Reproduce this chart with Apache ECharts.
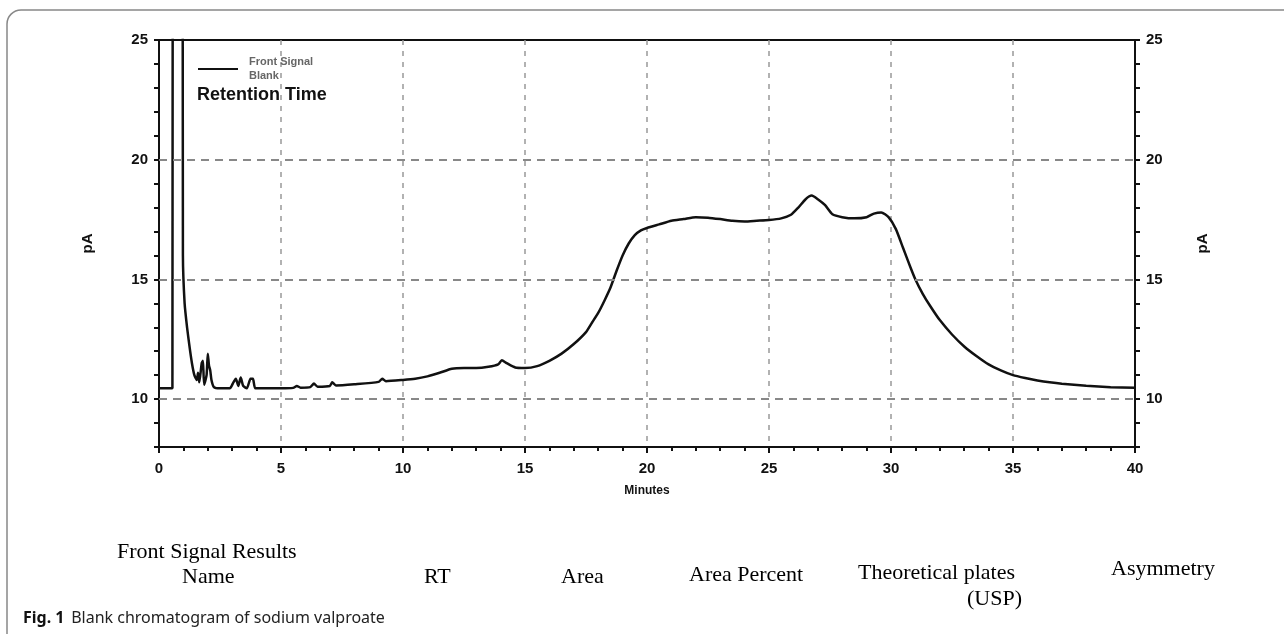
<!DOCTYPE html>
<html style="height: 100%">
<head>
    <meta charset="UTF-8">
    <title>Blank chromatogram of sodium valproate</title>
    <script src="https://cdn.jsdelivr.net/npm/echarts@6/dist/echarts.min.js"></script>
    <style>
        #main {
            width: 1284px;
            height: 634px;
        }
    </style>
</head>
<body style="height: 100%; margin: 0; background: #fff">
    <div id="main"></div>
    <script type="text/javascript">
        // retention time (min) and detector signal (pA)
        var minutes = [0, 0.55, 0.57, 0.95, 0.98, 1.05, 1.15, 1.25, 1.35, 1.45, 1.55, 1.6, 1.65, 1.75, 1.8, 1.85, 1.95, 2.0, 2.05, 2.1, 2.15, 2.25, 2.5, 2.9,
            3.05, 3.15, 3.25, 3.35, 3.45, 3.6, 3.75, 3.85, 3.95, 4.5, 5.0, 5.5, 5.65, 5.8, 6.2, 6.35, 6.5, 7.0, 7.1, 7.25, 8, 9, 9.15, 9.3,
            10, 10.5, 11, 11.5, 12, 12.5, 13, 13.5, 13.9, 14.05, 14.25, 14.6, 15, 15.5, 16, 16.5, 17, 17.5, 17.75, 18, 18.25, 18.5, 18.75,
            19, 19.25, 19.5, 19.75, 20, 20.5, 21, 21.5, 22, 22.5, 23, 23.5, 24, 24.5, 25, 25.5, 25.9, 26.2, 26.5, 26.75, 27.0, 27.3, 27.6,
            28, 28.5, 29, 29.3, 29.6, 29.9, 30.2, 30.5, 30.8, 31, 31.3, 31.6, 32, 32.5, 33, 33.5, 34, 34.5, 35, 35.5, 36, 36.5, 37, 38, 39, 40];
        var signal = [10.45, 10.45, 40, 40, 16, 14, 13.0, 12.2, 11.5, 11.0, 10.8, 11.1, 10.7, 11.5, 11.6, 10.6, 11.0, 11.9, 11.4, 11.2, 10.8, 10.5, 10.45, 10.45,
            10.7, 10.85, 10.55, 10.9, 10.55, 10.45, 10.85, 10.85, 10.45, 10.45, 10.45, 10.47, 10.55, 10.48, 10.5, 10.65, 10.52, 10.55, 10.7, 10.57, 10.62, 10.72, 10.85, 10.75,
            10.8, 10.85, 10.95, 11.1, 11.27, 11.3, 11.3, 11.35, 11.45, 11.62, 11.5, 11.32, 11.3, 11.38, 11.6, 11.9, 12.3, 12.8, 13.2, 13.6, 14.1, 14.65, 15.35,
            16.0, 16.5, 16.85, 17.05, 17.15, 17.3, 17.45, 17.52, 17.6, 17.58, 17.52, 17.45, 17.42, 17.45, 17.48, 17.55, 17.7, 18.0, 18.35, 18.5, 18.35, 18.1, 17.72,
            17.6, 17.55, 17.6, 17.75, 17.8, 17.6, 17.1, 16.3, 15.5, 15.0, 14.4, 13.9, 13.3, 12.7, 12.2, 11.8, 11.45, 11.2, 11.0, 10.88, 10.78, 10.7, 10.64, 10.56, 10.5, 10.47];

        var yLabels = [10, 15, 20, 25];
        var yGrid = [10, 15, 20];
        var tableHeads = ['Name', 'RT', 'Area', 'Area Percent', 'Theoretical plates', '(USP)', 'Asymmetry'];

        var chartDom = document.getElementById('main');
        var myChart = echarts.init(chartDom, null, { renderer: 'canvas' });

        var pts = minutes.map(function (m, i) { return [m, signal[i]]; });

        function yAxisOpt(pos) {
            return {
                type: 'value',
                position: pos,
                min: 8,
                max: 25,
                interval: 1,
                name: 'pA',
                nameLocation: 'middle',
                nameRotate: 90,
                nameGap: pos === 'left' ? 64 : 60,
                nameTextStyle: { fontFamily: 'Liberation Sans', fontWeight: 'bold', fontSize: 15, color: '#111' },
                axisLine: { show: true, lineStyle: { color: '#111', width: 2 } },
                axisTick: { show: true, length: 5, lineStyle: { color: '#111', width: 2 } },
                splitLine: { show: false },
                axisLabel: {
                    margin: 11,
                    fontFamily: 'Liberation Sans', fontWeight: 'bold', fontSize: 15, color: '#111',
                    formatter: function (v) { return yLabels.indexOf(v) >= 0 ? String(v) : ''; }
                }
            };
        }

        var serif = { fontFamily: 'Liberation Serif', fontSize: 22, fill: '#000' };
        function head(txt, x, y) {
            return { type: 'text', left: x, top: y - 12, style: Object.assign({ text: txt }, serif) };
        }

        var option = {
            animation: false,
            grid: { left: 159, right: 149, top: 40, bottom: 187, show: true, borderColor: '#111', borderWidth: 2 },
            legend: {
                left: 193, top: 50,
                icon: 'rect', itemWidth: 40, itemHeight: 2,
                textStyle: { fontFamily: 'Liberation Sans', fontWeight: 'bold', fontSize: 11, color: '#666', lineHeight: 14, padding: [0, 0, 0, 6] },
                data: ['Front Signal\nBlank']
            },
            xAxis: {
                type: 'value',
                min: 0, max: 40, interval: 5,
                name: 'Minutes',
                nameLocation: 'middle',
                nameGap: 38,
                nameTextStyle: { fontFamily: 'Liberation Sans', fontWeight: 'bold', fontSize: 12, color: '#111' },
                axisLine: { show: true, lineStyle: { color: '#111', width: 2 } },
                axisTick: { show: true, length: 6, lineStyle: { color: '#111', width: 2 } },
                minorTick: { show: true, splitNumber: 5, length: 4, lineStyle: { color: '#111', width: 2 } },
                splitLine: { show: true, lineStyle: { type: [5, 6], color: '#999', width: 1.5 } },
                axisLabel: { margin: 14, fontFamily: 'Liberation Sans', fontWeight: 'bold', fontSize: 15, color: '#111' }
            },
            yAxis: [yAxisOpt('left'), yAxisOpt('right')],
            series: [{
                name: 'Front Signal\nBlank',
                type: 'line',
                data: pts,
                showSymbol: false,
                clip: true,
                smooth: 0.2,
                lineStyle: { color: '#111', width: 2.5 },
                itemStyle: { color: '#111' },
                markLine: {
                    silent: true,
                    symbol: 'none',
                    label: { show: false },
                    lineStyle: { type: [8, 6], color: '#888', width: 1.8 },
                    data: yGrid.map(function (v) { return { yAxis: v }; })
                }
            }],
            graphic: [
                {
                    type: 'rect', silent: true,
                    shape: { x: 7, y: 10, width: 1320, height: 680, r: 14 },
                    style: { fill: 'none', stroke: '#888', lineWidth: 1.5 }
                },
                {
                    type: 'text', left: 197, top: 86,
                    style: { text: 'Retention Time', fontFamily: 'Liberation Sans', fontWeight: 'bold', fontSize: 18, fill: '#111' }
                },
                head('Front Signal Results', 117, 553),
                head(tableHeads[0], 182, 578),
                head(tableHeads[1], 424, 578),
                head(tableHeads[2], 561, 578),
                head(tableHeads[3], 689, 576),
                head(tableHeads[4], 858, 574),
                head(tableHeads[5], 967, 600),
                head(tableHeads[6], 1111, 570),
                {
                    type: 'text', left: 23, top: 610,
                    style: {
                        text: '{b|Fig. 1}  {r|Blank chromatogram of sodium valproate}',
                        rich: {
                            b: { fontFamily: 'Noto Sans', fontWeight: 'bold', fontSize: 16, fill: '#111' },
                            r: { fontFamily: 'Noto Sans', fontSize: 16, fill: '#222' }
                        }
                    }
                }
            ]
        };

        myChart.setOption(option);
    </script>
</body>
</html>
